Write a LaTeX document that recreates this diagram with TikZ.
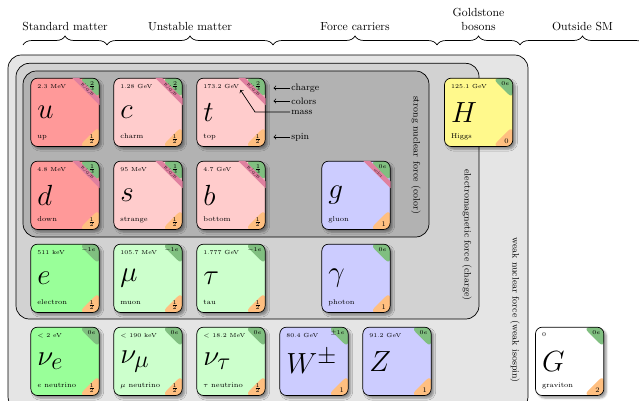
\documentclass[tikz,border=0pt]{standalone}
\usetikzlibrary{positioning, calc, decorations.pathreplacing, shadows.blur}

\begin{document}
\begin{tikzpicture}[
  part/.style={draw,semithick,rounded corners=2mm,minimum size=2.05cm,inner sep=0pt,fill=#1,blur shadow={shadow blur steps=5},
    path picture={
      \fill[green!50!black!50] ([xshift=-6.15mm]path picture bounding box.north east) -- (path picture bounding box.north east) -- ([yshift=-6.15mm]path picture bounding box.north east) -- cycle;
      \fill[orange!50!white] ([xshift=-6.15mm]path picture bounding box.south east) -- (path picture bounding box.south east) -- ([yshift=6.15mm]path picture bounding box.south east) -- cycle;}},
  sym/.style={inner sep=0pt,anchor=west,font=\fontsize{32}{32}\selectfont},
  mass/.style={inner sep=0pt,anchor=north west,font=\tiny},
  pname/.style={inner sep=0pt,anchor=base west,font=\fontsize{6}{7}\selectfont},
  chg/.style={inner sep=0pt,anchor=north east,font=\fontsize{4}{4}\selectfont},
  spin/.style={inner sep=0pt,anchor=south east,font=\fontsize{6}{7}\selectfont},
  band/.style={fill=purple!50!white},
  rgb/.style={inner sep=0pt,rotate=-45,font=\fontsize{3.2}{3.5}\selectfont},
  box/.style={draw,semithick,rounded corners=4mm,fill=#1},
  force/.style={rotate=-90,font=\footnotesize},
  brc/.style={decorate,decoration={brace,amplitude=2.7mm},semithick},
  note/.style={font=\footnotesize,anchor=west,inner sep=1pt}]
  \useasboundingbox (0,0) rectangle (19.17,-12);
  % interaction boxes
  \draw[box=gray!20] (0.24,-1.65) rectangle (15.84,-12.3);
  \draw[box=gray!35] (0.48,-1.9) rectangle (14.37,-9.57);
  \draw[box=gray!60] (0.69,-2.13) rectangle (12.87,-7.11);
  \node[force] (fs) at (12.48,-4.65) {strong nuclear force (color)};
  \node[force] (fe) at (14.01,-7.05) {electromagnetic force (charge)};
  \node[force] (fw) at (15.45,-9.3) {weak nuclear force (weak isospin)};
  % particles
  \foreach \n/\x/\y/\f/\s/\m/\l/\q/\p in {
    u/1.95/-3.37/red!40!white/u/2.3 MeV/up/{$+\frac{2}{3}$}/{$\frac{1}{2}$},
    c/4.44/-3.37/red!20!white/c/1.28 GeV/charm/{$+\frac{2}{3}$}/{$\frac{1}{2}$},
    t/6.93/-3.37/red!20!white/t/173.2 GeV/top/{$+\frac{2}{3}$}/{$\frac{1}{2}$},
    d/1.95/-5.86/red!40!white/d/4.8 MeV/down/{$-\frac{1}{3}$}/{$\frac{1}{2}$},
    s/4.44/-5.86/red!20!white/s/95 MeV/strange/{$-\frac{1}{3}$}/{$\frac{1}{2}$},
    b/6.93/-5.86/red!20!white/b/4.7 GeV/bottom/{$-\frac{1}{3}$}/{$\frac{1}{2}$},
    g/10.68/-5.86/blue!20!white/g//gluon/{$0e$}/1,
    e/1.95/-8.35/green!40!white/e/511 keV/electron/{$-1e$}/{$\frac{1}{2}$},
    mu/4.44/-8.35/green!20!white/\mu/105.7 MeV/muon/{$-1e$}/{$\frac{1}{2}$},
    tau/6.93/-8.35/green!20!white/\tau/1.777 GeV/tau/{$-1e$}/{$\frac{1}{2}$},
    gamma/10.68/-8.35/blue!20!white/\gamma//photon/{$0e$}/1,
    nue/1.95/-10.84/green!40!white/\nu_e/{$<$ 2 eV}/{$e$ neutrino}/{$0e$}/{$\frac{1}{2}$},
    numu/4.44/-10.84/green!20!white/\nu_\mu/{$<$ 190 keV}/{$\mu$ neutrino}/{$0e$}/{$\frac{1}{2}$},
    nutau/6.93/-10.84/green!20!white/\nu_\tau/{$<$ 18.2 MeV}/{$\tau$ neutrino}/{$0e$}/{$\frac{1}{2}$},
    W/9.42/-10.84/blue!20!white/W^\pm/80.4 GeV//{$\pm1e$}/1,
    Z/11.91/-10.84/blue!20!white/Z/91.2 GeV//{$0e$}/1,
    H/14.36/-3.37/yellow!45!white/H/125.1 GeV/Higgs/{$0e$}/0,
    G/17.09/-10.84/white/G/0/graviton/{$0e$}/2}{
    \node[part=\f] (\n) at (\x,\y) {};
    \node[sym] (\n-s) at ([xshift=2mm]\n.west) {$\s$};
    \node[mass] (\n-m) at ([shift={(2mm,-1.8mm)}]\n.north west) {\m};
    \node[pname] (\n-l) at ([shift={(2mm,2.6mm)}]\n.south west) {\l};
    \node[chg] (\n-q) at ([shift={(-1.1mm,-1.1mm)}]\n.north east) {\q};
    \node[spin] (\n-p) at ([shift={(-1.3mm,0.8mm)}]\n.south east) {\p};
  }
  % colour charge
  \foreach \n in {u,c,t,d,s,b,g}
    \fill[band] ([xshift=-8.2mm]\n.north east) -- ([xshift=-6.15mm]\n.north east) -- ([yshift=-6.15mm]\n.north east) -- ([yshift=-8.2mm]\n.north east) -- cycle;
  \foreach \n in {u,c,t,d,s,b}
    \node[rgb] (\n-k) at ([shift={(-3.65mm,-3.65mm)}]\n.north east) {R/G/B};
  \node[rgb] (g-k) at ([shift={(-3.65mm,-3.65mm)}]g.north east) {color};
  % legend
  \node[note] (lcharge) at (8.7,-2.64) {charge};
  \node[note] (lcolors) at (8.7,-3.03) {colors};
  \node[note] (lmass) at (8.7,-3.36) {mass};
  \node[note] (lspin) at (8.7,-4.11) {spin};
  \foreach \l in {lcharge,lcolors,lspin}{\draw[->,semithick,shorten >=2.4mm] (\l.west) -- (\l.west -| t.east);}
  \draw[->,semithick,shorten >=0.5mm] (lmass.west) -- ++(-1.05,0) -- (t-m.south east);
  % groups
  \foreach \i/\x in {0/0.69,1/3.21,2/8.19,3/13.11,4/15.6,5/19.35}{\coordinate (br\i) at (\x,-1.35);}
  \foreach \a/\b/\t in {0/1/Standard matter,1/2/Unstable matter,2/3/Force carriers,3/4/{Goldstone\\bosons},4/5/Outside SM}
    \draw[brc] (br\a) -- (br\b) node[midway,above=3mm,align=center] (grp\a) {\t};
\end{tikzpicture}
\end{document}
